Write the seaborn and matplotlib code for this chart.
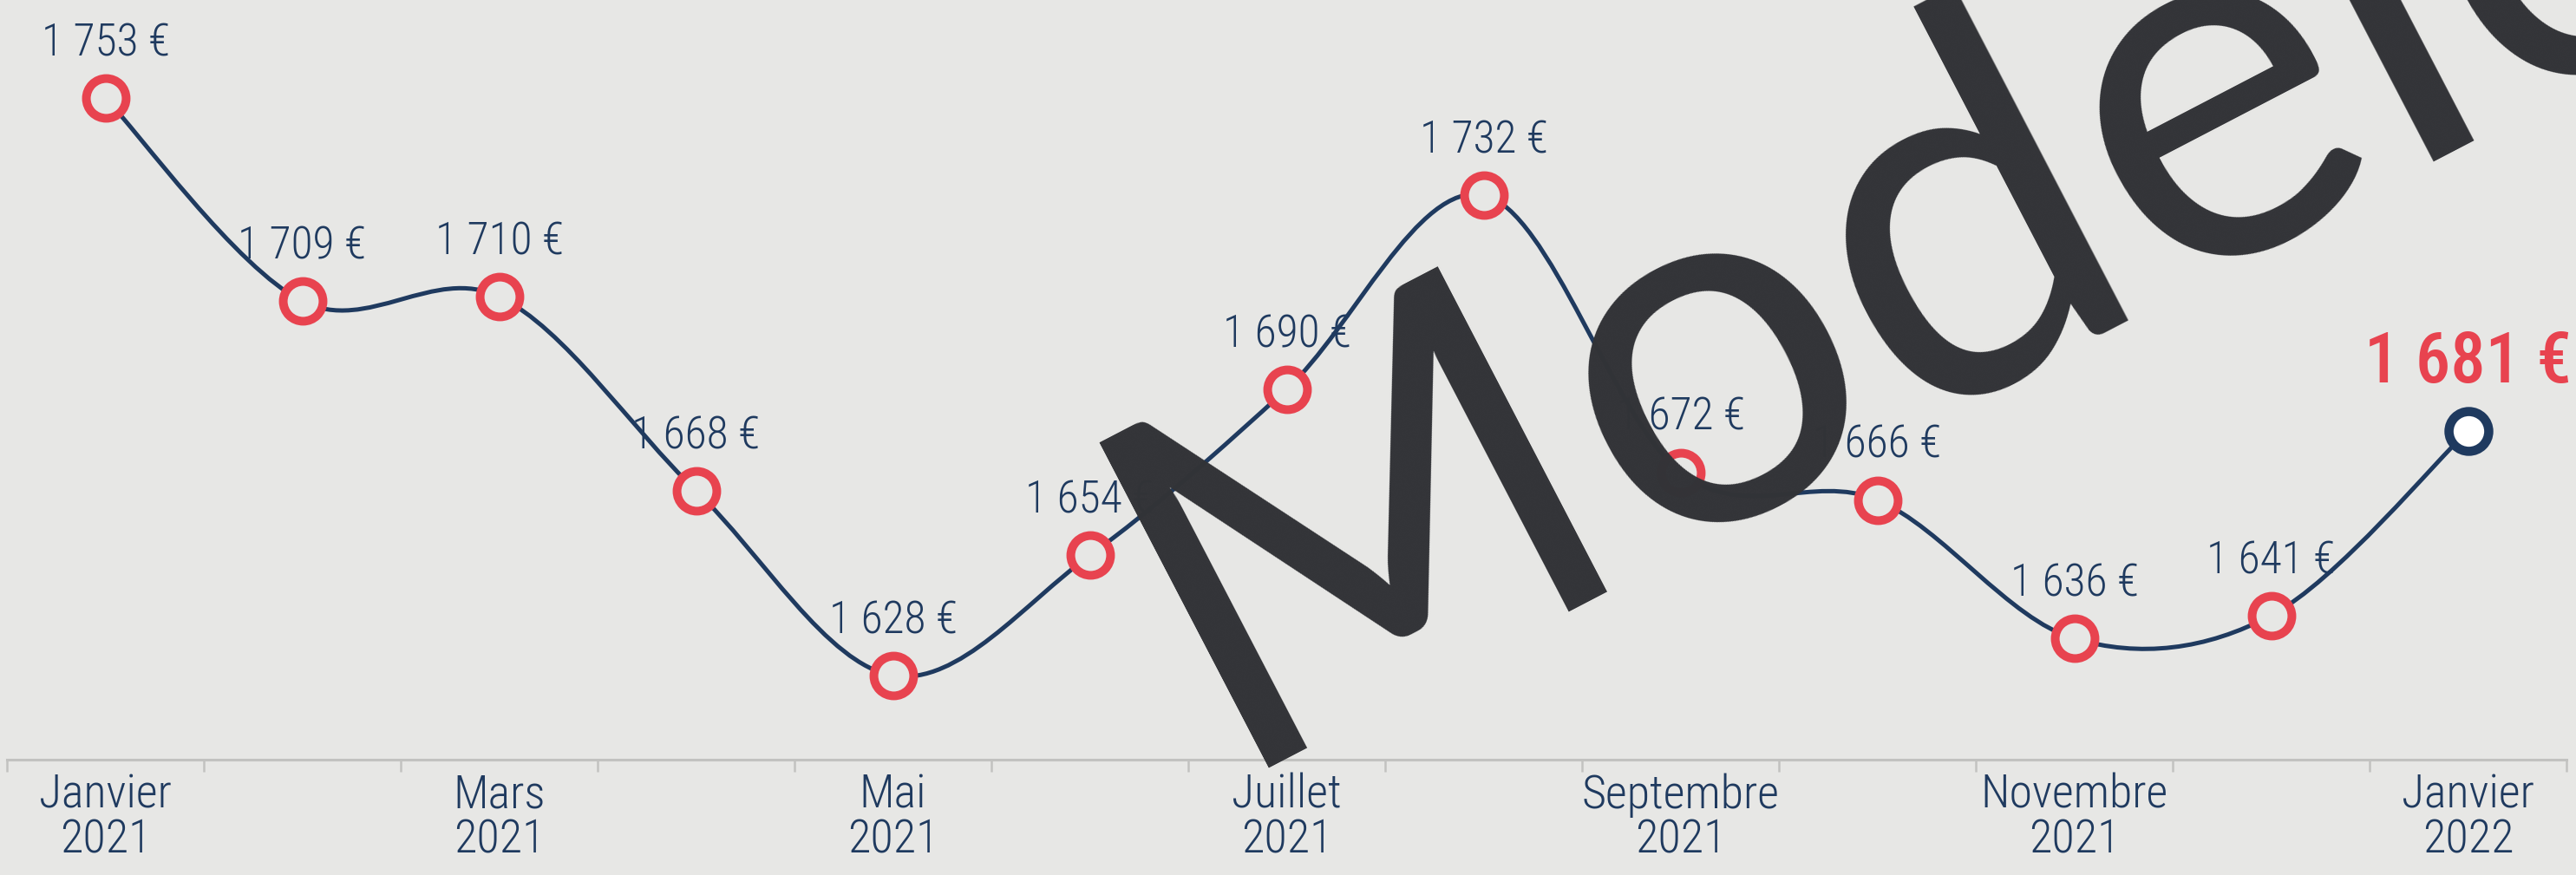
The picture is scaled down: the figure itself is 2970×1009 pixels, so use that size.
import matplotlib
matplotlib.use("Agg")
import matplotlib.pyplot as plt
from matplotlib import font_manager
from matplotlib.path import Path
from matplotlib.patches import PathPatch
import seaborn as sns
import numpy as np
import pandas as pd

# data
months = ["2021-01", "2021-02", "2021-03", "2021-04", "2021-05", "2021-06", "2021-07",
          "2021-08", "2021-09", "2021-10", "2021-11", "2021-12", "2022-01"]
values = [1753, 1709, 1710, 1668, 1628, 1654, 1690, 1732, 1672, 1666, 1636, 1641, 1681]
tick_labels = ["Janvier\n2021", "", "Mars\n2021", "", "Mai\n2021", "", "Juillet\n2021", "",
               "Septembre\n2021", "", "Novembre\n2021", "", "Janvier\n2022"]
watermark = "Modèle"

BG = "#E7E7E5"
NAVY = "#1F3A5F"
RED = "#E8434F"
GREY = "#C2C2C0"

# pick a narrow face if one is installed
installed = {f.name for f in font_manager.fontManager.ttflist}
narrow = next((name for name in ["Roboto Condensed", "Liberation Sans Narrow"]
               if name in installed), "DejaVu Sans")
FONT = [narrow, "DejaVu Sans"]
SCALE = 1.0 if narrow != "DejaVu Sans" else 0.82

df = pd.DataFrame({"month": months, "value": values})
df["pos"] = np.arange(len(df))

sns.set_theme(style="white")
plt.rcParams["font.family"] = FONT

fig = plt.figure(figsize=(29.7, 10.09), dpi=100, facecolor=BG)
ax = fig.add_axes([8 / 2970, 133 / 1009, 2951 / 2970, 876 / 1009])
ax.set_facecolor(BG)

# smooth line (Catmull-Rom as cubic Bezier segments)
x = df["pos"].to_numpy(dtype=float)
y = df["value"].to_numpy(dtype=float)
n = len(x)
tx = np.empty(n)
ty = np.empty(n)
tx[1:-1] = (x[2:] - x[:-2]) / 2
ty[1:-1] = (y[2:] - y[:-2]) / 2
tx[0], ty[0] = (x[1] - x[0]) / 2, (y[1] - y[0]) / 2
tx[-1], ty[-1] = (x[-1] - x[-2]) / 2, (y[-1] - y[-2]) / 2
verts = [(x[0], y[0])]
codes = [Path.MOVETO]
for i in range(n - 1):
    verts += [(x[i] + tx[i] / 3, y[i] + ty[i] / 3),
              (x[i + 1] - tx[i + 1] / 3, y[i + 1] - ty[i + 1] / 3),
              (x[i + 1], y[i + 1])]
    codes += [Path.CURVE4] * 3
ax.add_patch(PathPatch(Path(verts, codes), facecolor="none", edgecolor=NAVY,
                       lw=3.6, zorder=2, capstyle="round"))

# markers
sns.scatterplot(data=df.iloc[:-1], x="pos", y="value", ax=ax, s=1090, marker="o",
                facecolor=BG, edgecolor=RED, linewidth=7.2, zorder=3, legend=False)
sns.scatterplot(data=df.iloc[-1:], x="pos", y="value", ax=ax, s=1090, marker="o",
                facecolor="white", edgecolor=NAVY, linewidth=7.6, zorder=3, legend=False)


def fmt(v):
    return f"{v // 1000}\u202f{v % 1000:03d} €"


for i, row in df.iterrows():
    last = i == len(df) - 1
    ax.annotate(fmt(row["value"]), (row["pos"], row["value"]),
                xytext=(0, 40 if last else 35), textcoords="offset points",
                ha="center", va="baseline",
                fontsize=(58 if last else 37) * SCALE,
                fontweight="medium" if last else "light",
                color=RED if last else NAVY, zorder=4, annotation_clip=False)

ax.set_xlim(-0.5, len(df) - 0.5)
ax.set_ylim(1609.8, 1774.2)
ax.set_xticks(df["pos"])
ax.set_xticklabels(tick_labels, fontsize=39 * SCALE, color=NAVY, linespacing=1.0,
                   fontweight="light")
ax.set_xticks(np.arange(-0.5, len(df)), minor=True)
ax.tick_params(axis="x", which="major", length=0, pad=11)
ax.tick_params(axis="x", which="minor", length=10, width=1.8, color=GREY, bottom=True)
ax.set_yticks([])
ax.set_xlabel("")
ax.set_ylabel("")
for side in ["left", "top", "right"]:
    ax.spines[side].set_visible(False)
ax.spines["bottom"].set_color(GREY)
ax.spines["bottom"].set_linewidth(2.2)

# watermark
fig.text(0.4745, 0.122, watermark, rotation=27.5, rotation_mode="anchor",
         ha="left", va="baseline", fontsize=425, family=["Lato", "DejaVu Sans"],
         color="#323337", zorder=10)

fig.savefig("out.png", dpi=100, facecolor=BG)
